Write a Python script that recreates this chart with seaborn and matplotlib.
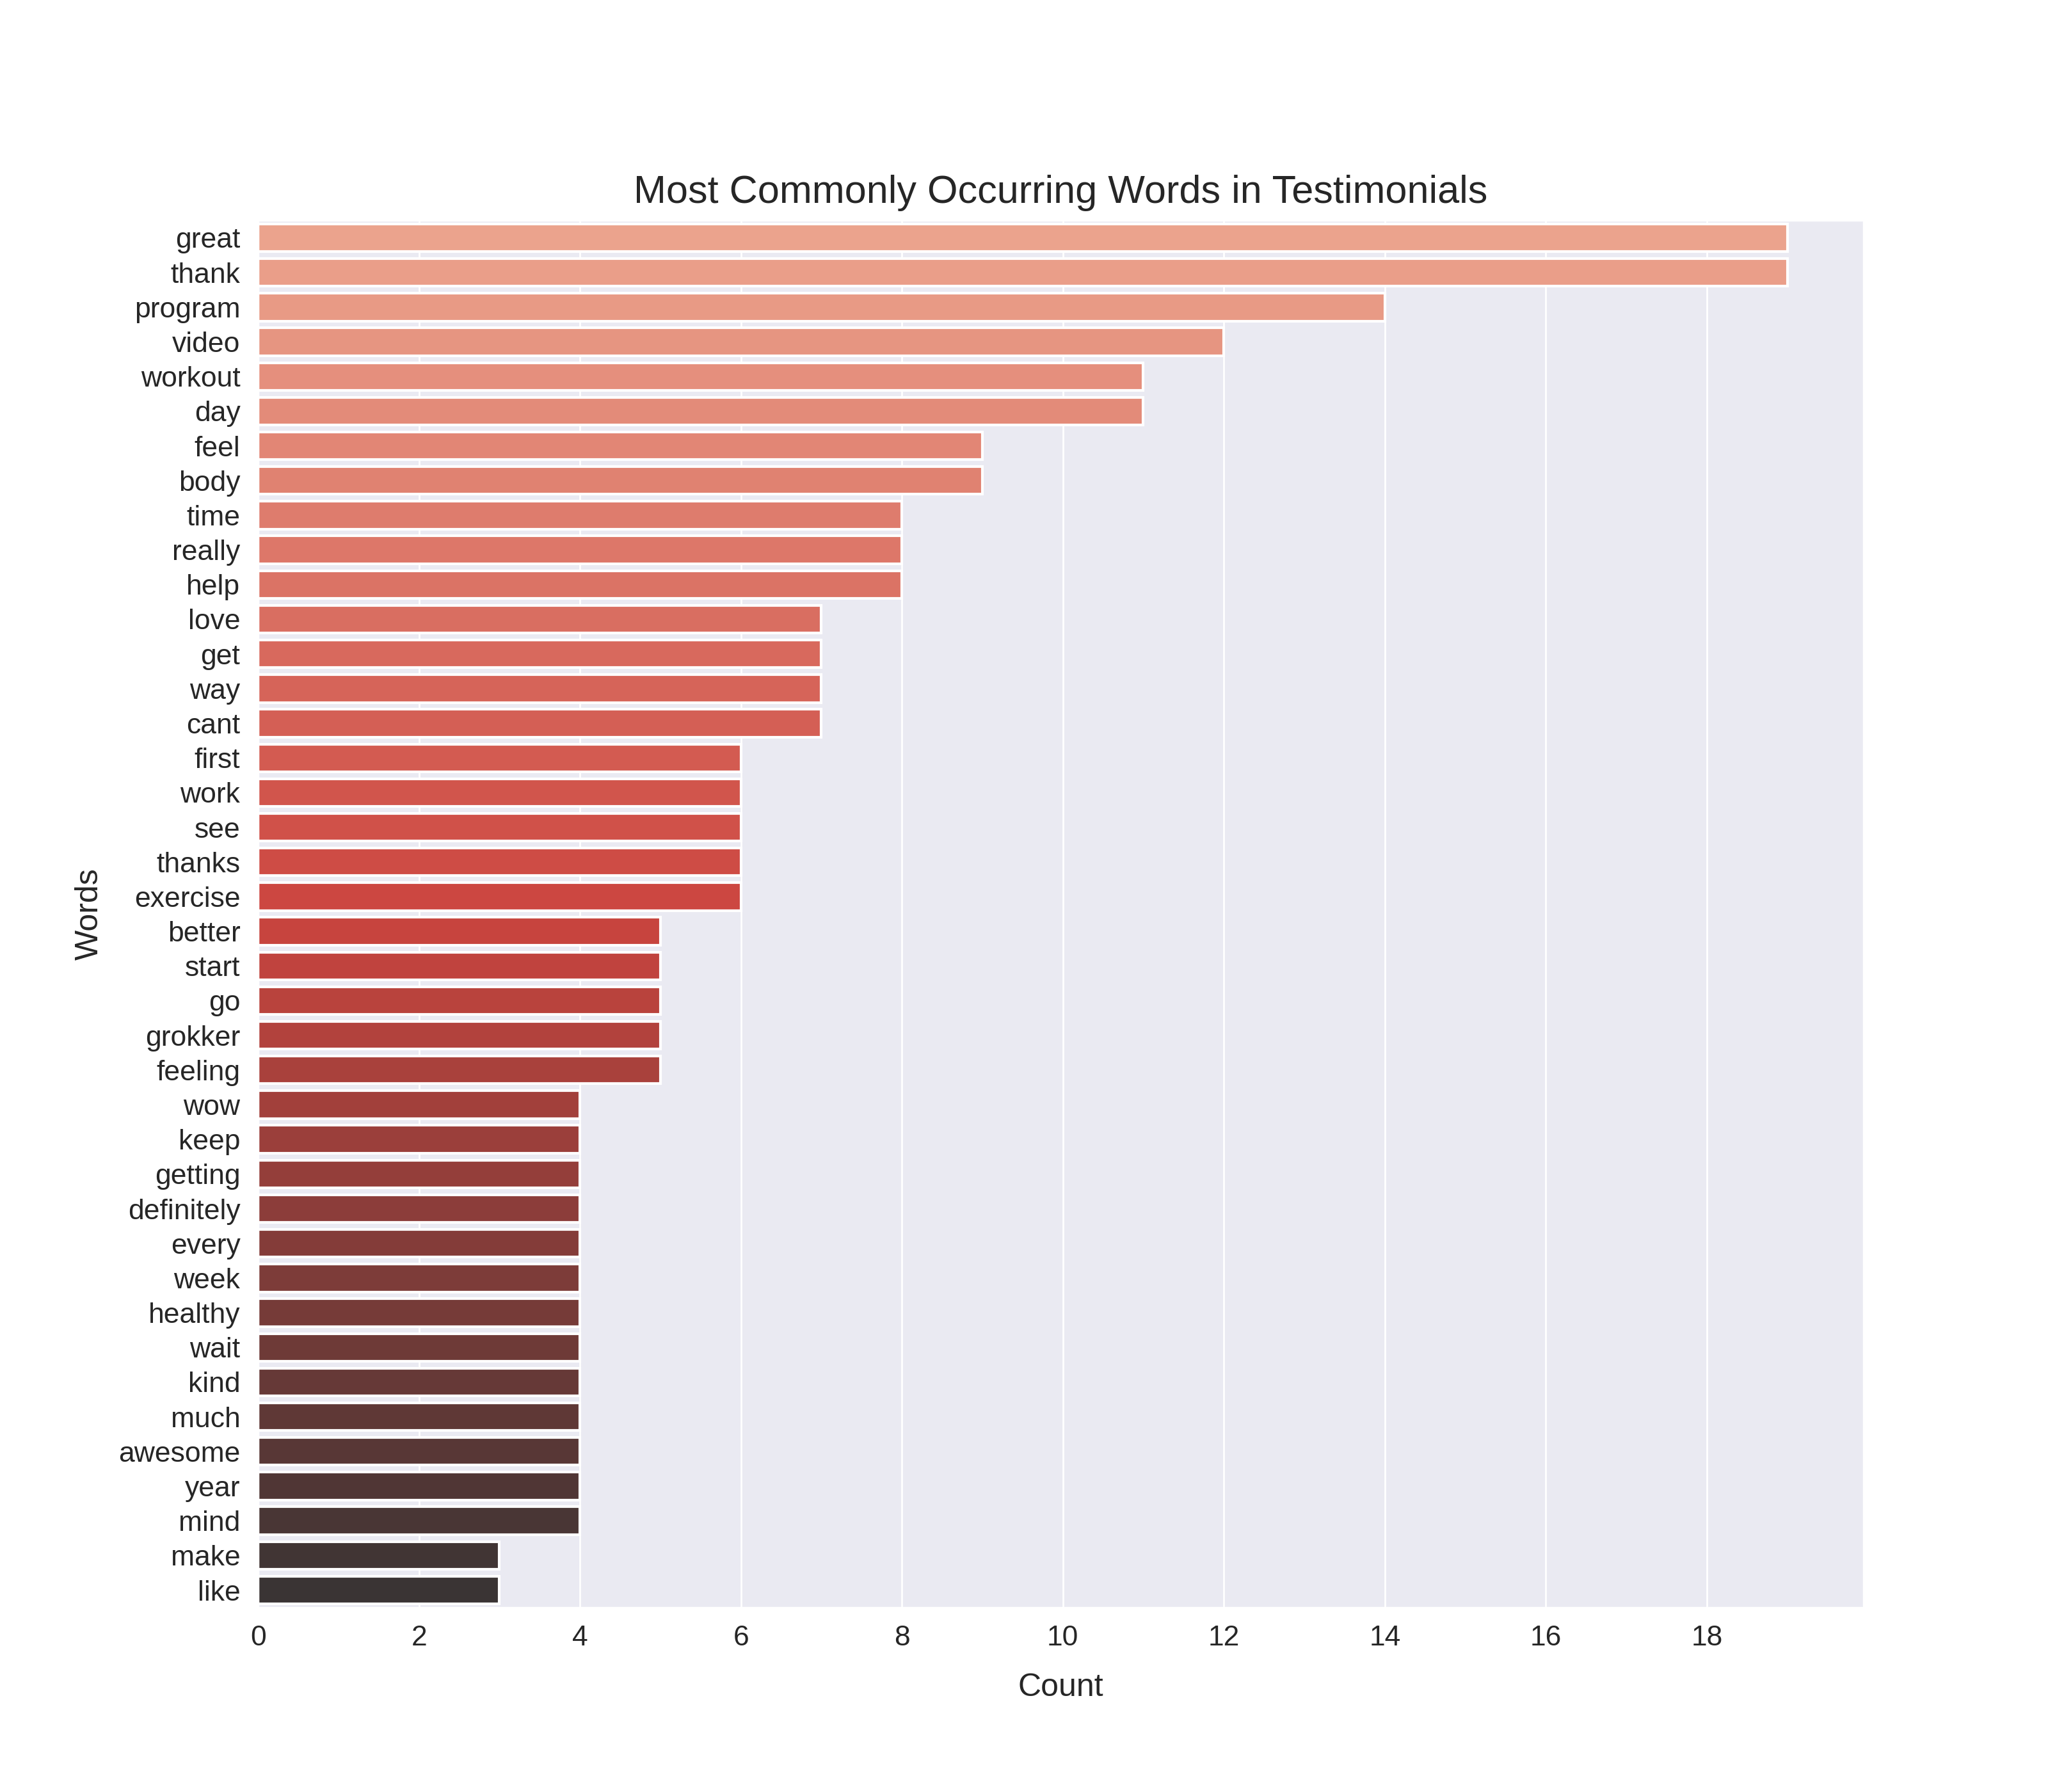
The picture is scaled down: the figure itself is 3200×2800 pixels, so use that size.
import matplotlib
matplotlib.use("Agg")
import matplotlib.pyplot as plt
import seaborn as sns
import pandas as pd

words = ["great","thank","program","video","workout","day","feel","body","time","really",
         "help","love","get","way","cant","first","work","see","thanks","exercise",
         "better","start","go","grokker","feeling","wow","keep","getting","definitely","every",
         "week","healthy","wait","kind","much","awesome","year","mind","make","like"]
counts = [19,19,14,12,11,11,9,9,8,8,
          8,7,7,7,7,6,6,6,6,6,
          5,5,5,5,5,4,4,4,4,4,
          4,4,4,4,4,4,4,4,3,3]
xticks = [0,2,4,6,8,10,12,14,16,18]

sns.set_theme(style="darkgrid")
df = pd.DataFrame({"Words": words, "Count": counts})
fig = plt.figure(figsize=(16, 14), dpi=200)
ax = fig.add_axes([0.126, 0.103, 0.784, 0.774])
pal = sns.color_palette("Reds_d", len(words))
sns.barplot(data=df, x="Count", y="Words", hue="Words", palette=pal, legend=False,
            ax=ax, edgecolor="white", linewidth=1.5)
fn = "Liberation Sans"
ax.set_xlim(0, 19.95)
ax.set_xticks(xticks)
ax.set_xticklabels([str(t) for t in xticks], fontsize=16, fontfamily=fn)
for lab in ax.get_yticklabels():
    lab.set_fontsize(16); lab.set_fontfamily(fn)
ax.tick_params(axis="both", length=0, pad=10)
ax.set_title("Most Commonly Occurring Words in Testimonials", fontsize=22, fontfamily=fn, pad=10)
ax.set_xlabel("Count", fontsize=18, fontfamily=fn, labelpad=12)
ax.set_ylabel("Words", fontsize=18, fontfamily=fn, labelpad=8)
ax.grid(axis="y", visible=False)
fig.savefig("out.png", dpi=200)
